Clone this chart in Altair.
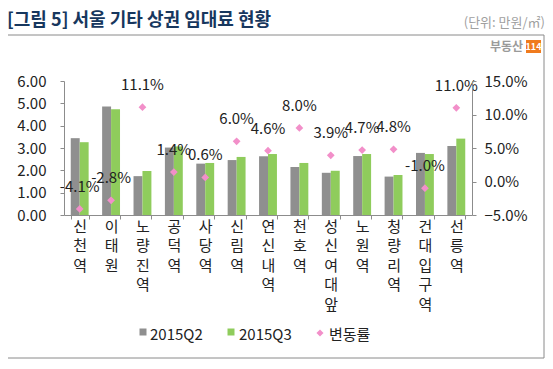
import altair as alt
import pandas as pd

categories = ["신천역", "이태원", "노량진역", "공덕역", "사당역", "신림역", "연신내역",
              "천호역", "성신여대앞", "노원역", "청량리역", "건대입구역", "선릉역"]
q2 = [3.44, 4.86, 1.74, 3.02, 2.30, 2.46, 2.63, 2.15, 1.89, 2.64, 1.72, 2.78, 3.09]
q3 = [3.26, 4.73, 1.97, 3.07, 2.33, 2.60, 2.73, 2.33, 1.98, 2.73, 1.79, 2.73, 3.42]
rate = [-4.1, -2.8, 11.1, 1.4, 0.6, 6.0, 4.6, 8.0, 3.9, 4.7, 4.8, -1.0, 11.0]
series = ["2015Q2", "2015Q3"]
rate_name = "변동률"
title_text = "[그림 5] 서울 기타 상권 임대료 현황"
unit_text = "(단위: 만원/㎡)"
left_ticks = [0, 1, 2, 3, 4, 5, 6]
right_ticks = [-5, 0, 5, 10, 15]

GRAY = "#8f8f8f"
GREEN = "#8fcc5c"
PINK = "#f28fc9"
AX = "#8c8c8c"
FONT = "Noto Sans CJK KR"

df_bar = pd.DataFrame({
    "cat": categories * 2,
    "series": [series[0]] * len(categories) + [series[1]] * len(categories),
    "value": q2 + q3,
})
df_rate = pd.DataFrame({
    "cat": categories,
    "rate": rate,
    "label": [f"{r:.1f}%" for r in rate],
})
one = pd.DataFrame({"a": [0]})

xenc = alt.X(
    "cat:N", sort=categories,
    scale=alt.Scale(paddingInner=0.43, paddingOuter=0.215),
    axis=alt.Axis(title=None, labelAngle=0, labelExpr="split(datum.label, '')",
                  labelLineHeight=19.5, labelBaseline="top", labelFontSize=15,
                  labelFont=FONT, labelColor="#222", tickBand="extent", tickSize=4,
                  labelPadding=0, domainColor=AX, tickColor=AX, zindex=1,
                  labelOverlap=False),
)

bars = alt.Chart(df_bar).mark_bar().encode(
    x=xenc,
    xOffset=alt.XOffset("series:N", sort=series,
                        scale=alt.Scale(paddingInner=0, paddingOuter=0)),
    y=alt.Y("value:Q", scale=alt.Scale(domain=[0, 6], nice=False),
            axis=alt.Axis(title=None, orient="left", values=left_ticks, format=".2f",
                          grid=False, tickSize=4, labelPadding=14, labelFontSize=15,
                          labelFont=FONT, labelColor="#222", domainColor=AX, tickColor=AX,
                          zindex=1, labelOverlap=False)),
    color=alt.Color("series:N", scale=alt.Scale(domain=series, range=[GRAY, GREEN]),
                    legend=None),
)

yrate = alt.Y("rate:Q", scale=alt.Scale(domain=[-5, 15], nice=False),
              axis=alt.Axis(title=None, orient="right", values=right_ticks,
                            labelExpr="format(datum.value, '.1f') + '%'",
                            grid=False, tickSize=4, labelPadding=8, labelFontSize=15,
                            labelFont=FONT, labelColor="#222", domainColor=AX, tickColor=AX,
                            zindex=1, labelOverlap=False))

points = alt.Chart(df_rate).mark_point(shape="diamond", filled=True, size=60,
                                       color=PINK, opacity=1).encode(
    x=alt.X("cat:N", sort=categories), y=yrate)

labels = alt.Chart(df_rate).mark_text(dy=-22, fontSize=15, font=FONT, color="#222").encode(
    x=alt.X("cat:N", sort=categories),
    y=alt.Y("rate:Q", scale=alt.Scale(domain=[-5, 15], nice=False), axis=None),
    text="label:N")

border = alt.Chart(one).mark_rect(fill="white", fillOpacity=0, stroke="#8a8a8a",
                                  strokeWidth=1).encode(
    x=alt.value(-57), x2=alt.value(480), y=alt.value(-46), y2=alt.value(277))

title = alt.Chart(one).mark_text(text=title_text, fontSize=18, fontWeight="bold", font=FONT,
                                 color="#17375e", align="left", baseline="alphabetic").encode(
    x=alt.value(-57), y=alt.value(-55))

unit = alt.Chart(one).mark_text(text=unit_text, fontSize=13, font=FONT, color="#a0a0a0",
                                align="right", baseline="alphabetic").encode(
    x=alt.value(481), y=alt.value(-54))

logo_txt = alt.Chart(one).mark_text(text="부동산", fontSize=12, fontWeight="bold", font=FONT,
                                    color="#9a9a9a", align="right", baseline="alphabetic").encode(
    x=alt.value(459), y=alt.value(-30))
logo_box = alt.Chart(one).mark_rect(fill="#f07b1e").encode(
    x=alt.value(462), x2=alt.value(477), y=alt.value(-41), y2=alt.value(-28))
logo_num = alt.Chart(one).mark_text(text="114", fontSize=9, fontWeight="bold", font=FONT,
                                    color="white", align="center", baseline="middle").encode(
    x=alt.value(469.5), y=alt.value(-34.5))

LY = 254
leg_q2_m = alt.Chart(one).mark_square(size=49, color=GRAY, opacity=1).encode(
    x=alt.value(79), y=alt.value(LY - 3))
leg_q2_t = alt.Chart(one).mark_text(text=series[0], fontSize=15, font=FONT, color="#222",
                                    align="left", baseline="middle").encode(
    x=alt.value(86), y=alt.value(LY))
leg_q3_m = alt.Chart(one).mark_square(size=49, color=GREEN, opacity=1).encode(
    x=alt.value(167), y=alt.value(LY - 3))
leg_q3_t = alt.Chart(one).mark_text(text=series[1], fontSize=15, font=FONT, color="#222",
                                    align="left", baseline="middle").encode(
    x=alt.value(175), y=alt.value(LY))
leg_r_m = alt.Chart(one).mark_point(shape="diamond", filled=True, size=50, color=PINK,
                                    opacity=1).encode(
    x=alt.value(256), y=alt.value(LY - 2))
leg_r_t = alt.Chart(one).mark_text(text=rate_name, fontSize=15, font=FONT, color="#222",
                                   align="left", baseline="middle").encode(
    x=alt.value(265), y=alt.value(LY))

chart = alt.layer(
    border, bars, points, labels, title, unit, logo_txt, logo_box, logo_num,
    leg_q2_m, leg_q2_t, leg_q3_m, leg_q3_t, leg_r_m, leg_r_t,
).resolve_scale(y="independent").properties(
    width=408, height=134, autosize="none",
    padding={"left": 56, "top": 73, "right": 73, "bottom": 146},
    background="white",
).configure_view(stroke=None)

chart.save("out.html", embed_options={"renderer": "svg", "actions": False})
